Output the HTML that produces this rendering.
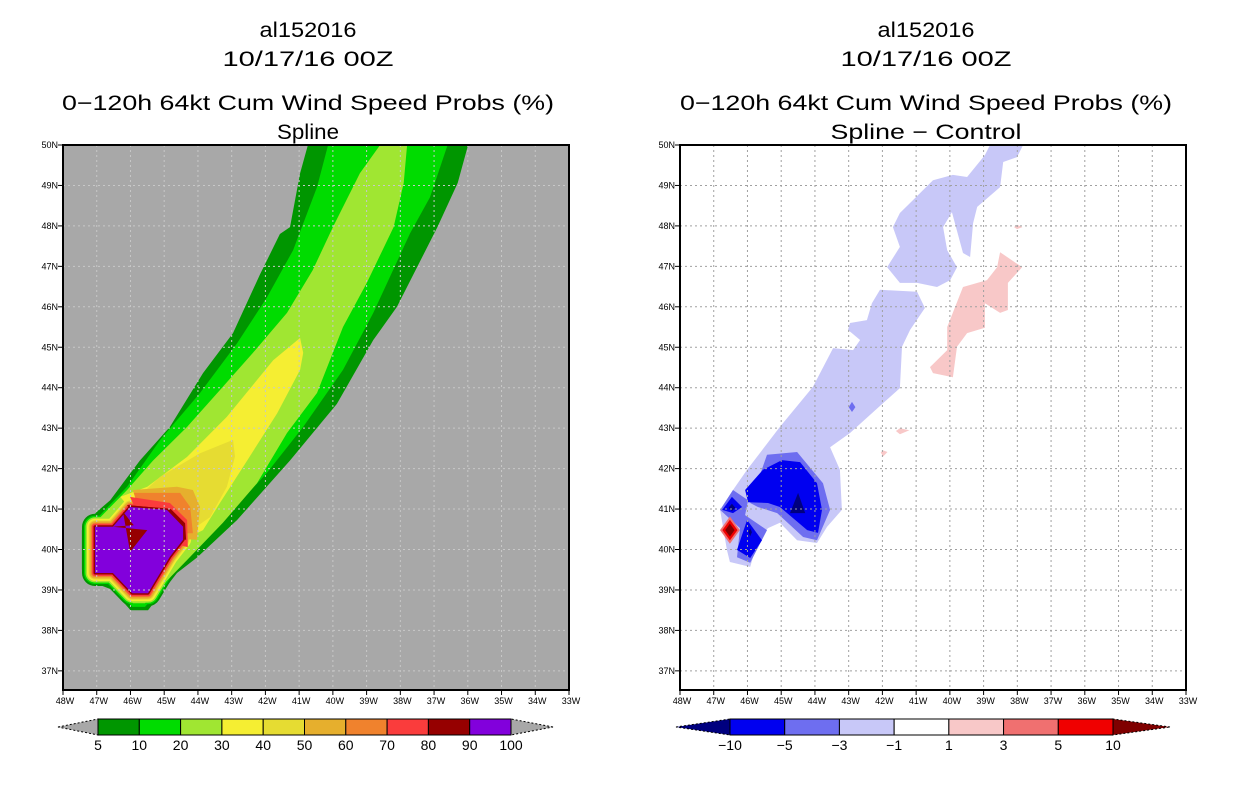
<!DOCTYPE html>
<html><head><meta charset="utf-8"><style>
html,body{margin:0;padding:0;background:#fff;width:1236px;height:800px;overflow:hidden}
svg{display:block}
text{font-family:"Liberation Sans",sans-serif}
</style></head><body>
<svg id="svg" width="1236" height="800" xmlns="http://www.w3.org/2000/svg"></svg>
<script>
// ===== data =====
const lonTicks=[48,47,46,45,44,43,42,41,40,39,38,37,36,35,34,33];
const latTicks=[50,49,48,47,46,45,44,43,42,41,40,39,38,37];
const leftLevels=[5,10,20,30,40,50,60,70,80,90,100];
const leftColors=["#009600","#00dc00","#a0e632","#f5ee32","#e6dc32","#e6af2d","#f0822d","#fa3c3c","#960000","#8200dc"];
const rightLevels=["-10","-5","-3","-1","1","3","5","10"];
const rightColors=["#00007f","#0000f0","#6e6ef0","#c8c8f8","#ffffff","#f8c8c8","#f07070","#f00000","#7f0000"];
// left panel contour polygons [lonW, latN]
const band5=[[40.74,50],[40.97,49.3],[41.27,47.97],[41.57,47.8],[42.16,46.8],[42.96,45.35],[43.85,44.36],[44.83,43.03],[45.72,42.2],[46.6,41.22],[47.0,40.93],[47.44,40.48],[47.44,39.5],[47.05,39.17],[46.52,39.0],[46.0,38.5],[45.48,38.5],[44.62,39.42],[44.03,39.8],[42.84,40.73],[41.27,42.2],[39.88,43.6],[38.8,45.18],[38.1,46.0],[36.9,47.97],[36.3,49.06],[35.99,50]];
const band10=[[40.14,50],[40.47,48.96],[41.18,47.4],[41.95,46.24],[42.84,45.1],[43.94,43.87],[45.12,42.71],[46.1,41.55],[46.9,40.85],[47.32,40.48],[47.32,39.6],[47.0,39.25],[46.5,39.1],[45.95,38.58],[45.57,38.58],[44.15,40.0],[43.05,40.9],[41.95,41.9],[40.88,43.03],[39.7,44.44],[38.8,45.85],[37.71,47.82],[37.12,48.71],[36.6,50]];
const band20=[[38.6,50],[39.2,49.3],[40.0,47.97],[40.6,46.9],[41.36,45.85],[42.37,44.86],[43.35,43.94],[44.32,43.03],[45.33,42.2],[46.1,41.47],[47.17,40.56],[47.17,39.5],[46.85,39.25],[46.4,39.1],[45.92,38.67],[45.57,38.67],[44.32,39.74],[43.26,40.66],[42.25,41.64],[41.36,42.88],[40.47,43.87],[39.7,45.5],[39.0,46.58],[38.2,47.97],[37.9,49.06],[37.8,50]];
const band30=[[40.97,45.23],[40.88,44.86],[40.97,44.44],[41.65,43.37],[42.54,42.2],[43.35,41.15],[43.85,40.48],[45.0,40.0],[46.3,41.3],[45.5,41.55],[44.32,42.29],[43.14,43.28],[41.77,44.68]];
const band40=[[42.96,42.71],[42.9,42.3],[43.14,41.55],[43.64,40.8],[44.5,40.3],[45.9,41.2],[45.12,41.8],[43.94,42.38]];
const band50=[[45.93,41.47],[44.62,41.55],[44.15,41.47],[43.94,41.05],[44.03,40.24],[45.5,40.3]];
const band60=[[45.9,41.4],[45.12,41.4],[44.53,41.4],[44.23,41.05],[44.15,40.4],[45.5,40.4]];
const band70=[[46.01,41.3],[44.83,41.15],[44.32,40.73],[44.3,40.06],[45.5,40.3]];
const band80=[[46.1,41.1],[44.8,41.0],[44.38,40.65],[44.35,40.24],[45.5,40.3]];
const core90=[[46.01,41.05],[44.92,40.98],[44.44,40.56],[44.44,40.24],[44.83,39.82],[45.48,38.92],[45.95,38.92],[46.52,39.42],[47.05,39.42],[47.05,40.56],[46.52,40.56]];
const core80tri=[[46.22,40.93],[45.9,40.6],[46.52,40.56],[45.5,40.48],[46.01,39.94]];
const coreRing=[26,22,19,16,13,11,8,6,3];
// right panel (difference) polygons
const lightBlueLower=[[42.07,46.42],[40.97,46.37],[40.74,45.97],[41.18,45.43],[41.42,45.01],[41.48,43.99],[41.98,43.62],[42.96,42.88],[43.55,42.53],[43.26,41.97],[43.2,40.98],[43.64,40.56],[43.94,40.16],[44.53,40.23],[45.04,40.66],[45.39,40.53],[45.69,40.23],[45.92,39.57],[46.52,39.69],[46.61,39.99],[46.81,40.98],[46.43,41.47],[46.01,41.97],[45.04,43.03],[44.06,44.02],[43.46,44.98],[42.87,44.93],[42.66,45.18],[43.02,45.43],[42.96,45.6],[42.46,45.67],[42.31,46.09]];
const lightBlueUpper=[[38.81,50],[37.83,50],[38.01,49.7],[38.42,49.58],[38.51,48.96],[39.19,48.47],[39.31,48.07],[39.4,47.23],[39.61,47.33],[39.94,48.34],[40.2,47.97],[40.08,47.4],[39.79,46.98],[39.99,46.66],[40.38,46.49],[40.97,46.59],[41.48,46.59],[41.86,46.98],[41.48,47.48],[41.69,47.97],[41.48,48.32],[41.09,48.64],[40.5,49.13],[39.91,49.26],[39.49,49.21],[38.96,49.75]];
const medBlueA=[[45.92,41.15],[45.42,42.34],[44.53,42.41],[43.76,41.64],[43.55,40.98],[43.94,40.23],[44.35,40.31],[45.12,40.9],[45.69,41.05]];
const medBlueB=[[46.81,40.98],[46.43,41.47],[45.98,41.22],[46.07,40.85],[45.42,40.48],[45.92,39.67],[46.31,39.81],[46.22,40.53]];
const medBlueSmall=[[42.9,43.65],[42.8,43.52],[42.9,43.4],[43.0,43.52]];
const blueBig=[[46.07,41.47],[45.54,41.97],[44.98,42.21],[44.44,42.16],[43.94,41.64],[43.79,40.98],[43.91,40.41],[44.23,40.48],[45.04,41.05],[45.39,41.15],[45.98,41.17]];
const blueSmall=[[46.75,40.98],[46.46,41.3],[46.16,41.05],[46.43,40.9]];
const blueLobe=[[46.01,40.73],[45.57,40.23],[45.92,39.79],[46.31,39.99]];
const navyTri=[[44.5,41.4],[44.29,40.9],[44.74,40.9]];
const navySmall1=[[46.46,41.13],[46.36,41.03],[46.46,40.95],[46.56,41.03]];
const navySmall2=[[45.92,40.53],[45.87,40.43],[45.92,40.33],[45.97,40.43]];
const pinkMain=[[38.51,47.35],[37.86,46.98],[38.28,46.59],[38.28,45.92],[38.51,45.85],[38.96,46.09],[38.96,45.48],[39.49,45.35],[39.79,45.01],[39.91,44.26],[40.5,44.36],[40.59,44.51],[40.08,44.93],[40.08,45.5],[39.61,46.49],[38.9,46.66],[38.6,46.98]];
const pinkSmall1=[[38.01,48.03],[37.85,47.97],[38.01,47.92],[38.1,47.97]];
const pinkSmall2=[[41.48,43.0],[41.2,42.95],[41.48,42.85],[41.6,42.93]];
const pinkSmall3=[[41.98,42.45],[41.85,42.41],[41.98,42.3],[42.05,42.4]];
const diamondCenter=[46.52,40.48];
const diamondSizes=[0.42,0.32,0.2];

// ===== helpers =====
const NS="http://www.w3.org/2000/svg";
const svg=document.getElementById('svg');
function mk(tag,attrs,parent){const e=document.createElementNS(NS,tag);for(const k in attrs)e.setAttribute(k,attrs[k]);(parent||svg).appendChild(e);return e;}
const PW=506, PH=545, DX=PW/15, DY=40.45;
function xs(x0){return lon=>x0+(48-lon)*DX;}
function ys(lat){return 145+(50-lat)*DY;}
function pts(poly,X){return poly.map(p=>X(p[0]).toFixed(1)+","+ys(p[1]).toFixed(1)).join(" ");}

function panel(x0,titleCx,subtitle,bg,gridColor,name){
  const g=mk('g',{});
  
  
  const T=[["al152016",30,97],["10/17/16 00Z",59,171],["0\u2212120h 64kt Cum Wind Speed Probs (%)",103,492],[subtitle,132,subtitle.length>8?191:62]];
  T.forEach((t,i)=>{const e=mk('text',{x:titleCx,y:t[1]+7,'text-anchor':'middle','font-size':21,textLength:t[2],lengthAdjust:'spacingAndGlyphs',fill:'#000'},g);e.textContent=t[0];
    
    });
  const clipId='clip'+x0;
  const cp=mk('clipPath',{id:clipId},g);mk('rect',{x:x0,y:145,width:PW,height:PH},cp);
  const bgR=mk('rect',{x:x0,y:145,width:PW,height:PH,fill:bg},g);
  
  
  const fills=mk('g',{'clip-path':`url(#${clipId})`},g);
  
  
  const grid=mk('g',{stroke:gridColor,'stroke-width':1,'stroke-dasharray':'2,3'},g);
  
  
  const X=xs(x0);
  lonTicks.forEach(l=>{const x=X(l);
    if(l<48&&l>33)mk('line',{x1:x,y1:145,x2:x,y2:690},grid);
    mk('line',{x1:x,y1:690,x2:x,y2:695,stroke:'#000','stroke-width':1},g);
    const t=mk('text',{x:x+2,y:704,'text-anchor':'middle','font-size':9,fill:'#000'},g);t.textContent=l+"W";
    
    });
  latTicks.forEach(l=>{const y=ys(l);
    if(l<50)mk('line',{x1:x0,y1:y,x2:x0+PW,y2:y},grid);
    mk('line',{x1:x0-5,y1:y,x2:x0,y2:y,stroke:'#000','stroke-width':1},g);
    const t=mk('text',{x:x0-5,y:y+3,'text-anchor':'end','font-size':9,fill:'#000'},g);t.textContent=l+"N";
    
    });
  const fr=mk('rect',{x:x0,y:145,width:PW,height:PH,fill:'none',stroke:'#000','stroke-width':2},g);
  
  
  return {fills,grid,X};
}

// ===== left panel =====
const L=panel(63,308,"Spline","#a8a8a8","#c8c8c8","left-panel-spline");
const leftBands=[band5,band10,band20,band30,band40,band50,band60,band70,band80];
leftBands.forEach((b,i)=>{
  const p=mk('polygon',{points:pts(b,L.X),fill:leftColors[i]},L.fills);
  
  
  const r=mk('polygon',{points:pts(core90,L.X),fill:leftColors[i],stroke:leftColors[i],'stroke-width':coreRing[i],'stroke-linejoin':'round'},L.fills);
  
  
});
const pc=mk('polygon',{points:pts(core90,L.X),fill:leftColors[9]},L.fills);


const pt=mk('polygon',{points:pts(core80tri,L.X),fill:leftColors[8]},L.fills);


// move grid above fills already (grid group appended after fills)

// ===== right panel =====
const R=panel(680,926,"Spline \u2212 Control","#ffffff","#a0a0a0","right-panel-difference");
const rightPolys=[[lightBlueLower,3,'diff-minus1-lower'],[lightBlueUpper,3,'diff-minus1-upper'],[medBlueA,2,'diff-minus3-main'],[medBlueB,2,'diff-minus3-lobe'],[medBlueSmall,2,'diff-minus3-spot'],[blueBig,1,'diff-minus5-main'],[blueSmall,1,'diff-minus5-small'],[blueLobe,1,'diff-minus5-lobe'],[navyTri,0,'diff-minus10-main'],[navySmall1,0,'diff-minus10-spot1'],[navySmall2,0,'diff-minus10-spot2'],[pinkMain,5,'diff-plus1-main'],[pinkSmall1,5,'diff-plus1-spot1'],[pinkSmall2,5,'diff-plus1-spot2'],[pinkSmall3,5,'diff-plus1-spot3']];
rightPolys.forEach(rp=>{
  const p=mk('polygon',{points:pts(rp[0],R.X),fill:rightColors[rp[1]]},R.fills);
  
  
});
[[6,0],[7,1],[8,2]].forEach(([ci,si])=>{
  const s=diamondSizes[si],c=diamondCenter;
  const d=[[c[0],c[1]+s*0.8],[c[0]-s*0.7,c[1]],[c[0],c[1]-s*0.8],[c[0]+s*0.7,c[1]]];
  const p=mk('polygon',{points:pts(d,R.X),fill:rightColors[ci]},R.fills);
  
  
});

// ===== colorbars =====
function colorbar(x0,x1,tipL,tipR,colors,labels,name){
  const g=mk('g',{});
  
  
  const y0=719,y1=735,ym=727;
  const n=colors.length-2, w=(x1-x0)/n;
  mk('polygon',{points:`${tipL},${ym} ${x0},${y0} ${x0},${y1}`,fill:colors[0],stroke:'#000','stroke-width':1,'stroke-dasharray':'2,2'},g);
  mk('polygon',{points:`${tipR},${ym} ${x1},${y0} ${x1},${y1}`,fill:colors[colors.length-1],stroke:'#000','stroke-width':1,'stroke-dasharray':'2,2'},g);
  for(let i=0;i<n;i++){const r=mk('rect',{x:x0+i*w,y:y0,width:w,height:y1-y0,fill:colors[i+1],stroke:'#000','stroke-width':1},g);
    
    }
  labels.forEach((lb,i)=>{const t=mk('text',{x:x0+i*w,y:750,'text-anchor':'middle','font-size':14,fill:'#000'},g);t.textContent=lb.replace('-','\u2212');
    
    });
}
colorbar(98,511,58,553,["#a8a8a8"].concat(leftColors).concat(["#a8a8a8"]),leftLevels.map(String),'left-colorbar');
colorbar(730,1113,676,1170,rightColors,rightLevels,'right-colorbar');
</script>
</body></html>
